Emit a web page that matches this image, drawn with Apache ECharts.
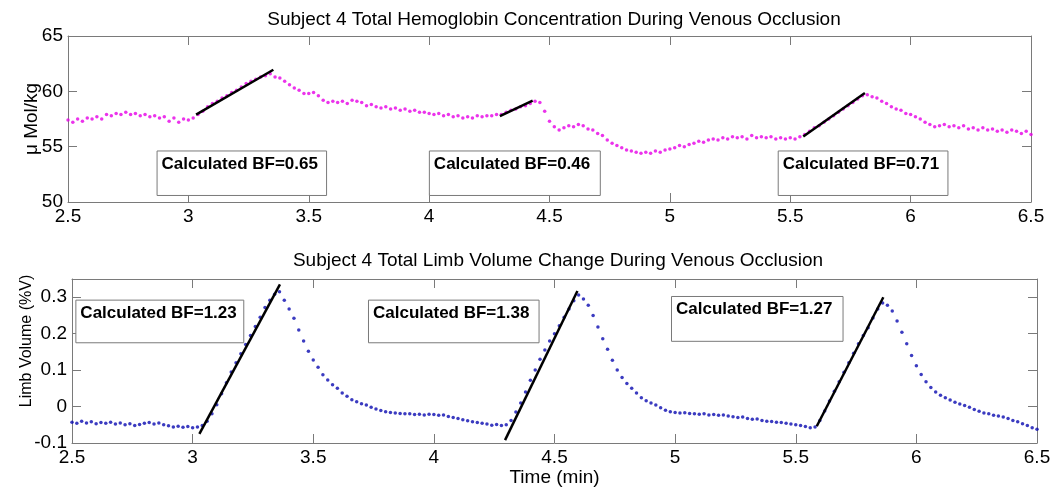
<!DOCTYPE html>
<html>
<head>
<meta charset="utf-8">
<script src="https://cdn.jsdelivr.net/npm/echarts@6/dist/echarts.min.js"></script>
<style>
  html, body { margin: 0; padding: 0; background: #fff; }
  #main { width: 1059px; height: 488px; }
</style>
</head>
<body>
<div id="main"></div>
<script>
// sample times (min), every 0.02 min from 2.5 to 6.5
const tStart = 2.5
const tStep = 0.02
const nSamples = 201

// total hemoglobin (uMol/kg)
const hbValues = [
  57.4, 57.2, 57.5, 57.3, 57.6, 57.5, 57.7, 57.5, 57.9, 57.8,
  58.0, 57.9, 58.1, 57.9, 58.0, 57.8, 57.9, 57.7, 57.8, 57.6,
  57.7, 57.3, 57.6, 57.2, 57.5, 57.4, 57.6, 57.9, 58.2, 58.6,
  58.9, 59.1, 59.4, 59.6, 59.9, 60.1, 60.4, 60.7, 60.9, 61.1,
  61.3, 61.4, 61.6, 61.3, 61.2, 60.9, 60.6, 60.3, 60.1, 59.8,
  59.8, 59.9, 59.6, 59.2, 59.0, 59.1, 59.0, 59.1, 58.9, 59.2,
  59.1, 59.0, 58.7, 58.8, 58.6, 58.5, 58.6, 58.4, 58.5, 58.3,
  58.4, 58.2, 58.3, 58.1, 58.1, 58.0, 57.9, 58.0, 57.8, 57.9,
  57.7, 57.8, 57.6, 57.7, 57.6, 57.8, 57.7, 57.8, 57.8, 57.9,
  57.9, 58.1, 58.3, 58.4, 58.6, 58.7, 58.9, 59.1, 59.0, 58.2,
  57.3, 56.8, 56.5, 56.7, 56.9, 56.8, 57.0, 56.9, 56.6, 56.5,
  56.2, 56.0, 55.6, 55.3, 55.1, 54.9, 54.7, 54.6, 54.5, 54.4,
  54.5, 54.4, 54.6, 54.5, 54.7, 54.8, 54.9, 55.1, 55.0, 55.2,
  55.3, 55.5, 55.4, 55.6, 55.7, 55.6, 55.8, 55.7, 55.9, 55.8,
  55.9, 55.7, 56.0, 55.8, 55.9, 55.8, 55.9, 55.7, 55.8, 55.7,
  55.8, 55.7, 55.9, 56.1, 56.4, 56.7, 56.9, 57.2, 57.5, 57.8,
  58.1, 58.4, 58.7, 59.0, 59.3, 59.6, 59.7, 59.5, 59.4, 59.1,
  58.9, 58.6, 58.4, 58.3, 58.0, 57.9, 57.7, 57.5, 57.2, 57.0,
  56.8, 56.9, 57.0, 56.8, 56.9, 56.7, 56.9, 56.6, 56.7, 56.5,
  56.7, 56.5, 56.6, 56.4, 56.5, 56.3, 56.5, 56.4, 56.2, 56.4,
  56.1
]

// limb volume change (%V)
const volValues = [
  -0.043, -0.046, -0.040, -0.045, -0.042, -0.047, -0.044, -0.046, -0.043, -0.048,
  -0.045, -0.050, -0.047, -0.052, -0.049, -0.046, -0.044, -0.048, -0.045, -0.050,
  -0.053, -0.056, -0.054, -0.057, -0.055, -0.058, -0.056, -0.052, -0.040, -0.020,
  0.005, 0.035, 0.065, 0.095, 0.120, 0.145, 0.170, 0.195, 0.220, 0.245,
  0.272, 0.292, 0.308, 0.315, 0.292, 0.268, 0.242, 0.210, 0.180, 0.152,
  0.128, 0.108, 0.087, 0.073, 0.060, 0.050, 0.037, 0.028, 0.019, 0.013,
  0.008, 0.004, -0.002, -0.007, -0.011, -0.014, -0.016, -0.018, -0.019, -0.020,
  -0.020, -0.022, -0.021, -0.023, -0.021, -0.022, -0.024, -0.023, -0.027, -0.030,
  -0.033, -0.036, -0.039, -0.042, -0.044, -0.046, -0.048, -0.051, -0.049, -0.052,
  -0.050, -0.038, -0.015, 0.010, 0.040, 0.072, 0.100, 0.130, 0.155, 0.180,
  0.200, 0.222, 0.245, 0.268, 0.290, 0.306, 0.295, 0.278, 0.250, 0.218,
  0.186, 0.157, 0.127, 0.100, 0.080, 0.063, 0.050, 0.037, 0.024, 0.016,
  0.010, 0.004, -0.003, -0.010, -0.014, -0.016, -0.018, -0.017, -0.019, -0.020,
  -0.021, -0.020, -0.023, -0.022, -0.024, -0.023, -0.026, -0.028, -0.030, -0.029,
  -0.033, -0.035, -0.034, -0.038, -0.040, -0.041, -0.043, -0.044, -0.046, -0.048,
  -0.050, -0.052, -0.055, -0.058, -0.056, -0.038, -0.012, 0.015, 0.042, 0.068,
  0.094, 0.120, 0.146, 0.172, 0.195, 0.216, 0.243, 0.268, 0.284, 0.278,
  0.262, 0.235, 0.204, 0.172, 0.140, 0.112, 0.088, 0.068, 0.052, 0.040,
  0.031, 0.024, 0.018, 0.012, 0.007, 0.003, -0.002, -0.008, -0.013, -0.018,
  -0.020, -0.024, -0.026, -0.029, -0.033, -0.038, -0.042, -0.047, -0.052, -0.058,
  -0.062
]

// fitted lines [x1, y1, x2, y2]
const hbFits = [
  [3.032, 57.9, 3.353, 61.95],
  [4.294, 57.76, 4.430, 59.17],
  [5.554, 55.92, 5.810, 59.85]
]
const volFits = [
  [3.028, -0.075, 3.362, 0.335],
  [4.295, -0.092, 4.595, 0.317],
  [5.587, -0.054, 5.863, 0.300]
]

// annotation boxes: label, x1, y1, x2, y2 (data units)
const hbNotes = [
  ['Calculated BF=0.65', 2.870, 54.61, 3.574, 50.59],
  ['Calculated BF=0.46', 4.001, 54.61, 4.711, 50.59],
  ['Calculated BF=0.71', 5.450, 54.61, 6.155, 50.59]
]
const volNotes = [
  ['Calculated BF=1.23', 2.516, 0.292, 3.212, 0.175],
  ['Calculated BF=1.38', 3.729, 0.292, 4.436, 0.175],
  ['Calculated BF=1.27', 4.985, 0.302, 5.696, 0.179]
]

const titles = [
  'Subject 4 Total Hemoglobin Concentration During Venous Occlusion',
  'Subject 4 Total Limb Volume Change During Venous Occlusion'
]

const font = 'Liberation Sans, Arial, sans-serif'
const axisGray = '#7a7a7a'

let times = []
for (let i = 0; i < nSamples; i++) times.push(+(tStart + i * tStep).toFixed(2))

function boxArea (notes) {
  return {
    silent: true,
    itemStyle: { color: '#fff', borderColor: axisGray, borderWidth: 1 },
    label: {
      show: true,
      position: 'insideTopLeft',
      distance: 5,
      color: '#000',
      fontSize: 17,
      fontWeight: 'bold',
      fontFamily: font
    },
    data: notes.map(n => [
      { name: n[0], xAxis: n[1], yAxis: n[2] },
      { xAxis: n[3], yAxis: n[4] }
    ])
  }
}

function fitSeries (fits, xi, yi) {
  return fits.map(f => ({
    type: 'line',
    xAxisIndex: xi,
    yAxisIndex: yi,
    data: [[f[0], f[1]], [f[2], f[3]]],
    symbol: 'none',
    lineStyle: { color: '#000', width: 2.5 },
    z: 5,
    silent: true
  }))
}

function xAxes (grid, showName) {
  let base = {
    type: 'value',
    gridIndex: grid,
    min: 2.5,
    max: 6.5,
    interval: 0.5,
    splitLine: { show: false },
    axisLine: { show: true, onZero: false, lineStyle: { color: axisGray } },
    axisTick: { show: true, inside: true, length: 9, lineStyle: { color: axisGray } }
  }
  return [
    Object.assign({}, base, {
      position: 'bottom',
      name: showName ? 'Time (min)' : '',
      nameLocation: 'middle',
      nameGap: 25,
      nameTextStyle: { color: '#000', fontSize: 19, fontFamily: font },
      axisLabel: { color: '#000', fontSize: 19, fontFamily: font, margin: 5 }
    }),
    Object.assign({}, base, { position: 'top', axisLabel: { show: false } })
  ]
}

function yAxes (grid, min, max, interval) {
  let base = {
    type: 'value',
    gridIndex: grid,
    min: min,
    max: max,
    interval: interval,
    splitLine: { show: false },
    axisLine: { show: true, onZero: false, lineStyle: { color: axisGray } },
    axisTick: { show: true, inside: true, length: 9, lineStyle: { color: axisGray } }
  }
  let onTick = Math.abs(Math.round((max - min) / interval) * interval - (max - min)) < 1e-9
  return [
    Object.assign({}, base, {
      position: 'left',
      axisLabel: { color: '#000', fontSize: 19, fontFamily: font, margin: 5, showMaxLabel: onTick }
    }),
    Object.assign({}, base, { position: 'right', axisLabel: { show: false } })
  ]
}

let chart = echarts.init(document.getElementById('main'), null, { renderer: 'canvas' })

let option = {
  animation: false,
  backgroundColor: '#fff',
  title: [
    {
      text: titles[0],
      left: 549,
      top: 5,
      textAlign: 'center',
      textStyle: { color: '#000', fontSize: 19, fontWeight: 'normal', fontFamily: font }
    },
    {
      text: titles[1],
      left: 553,
      top: 246,
      textAlign: 'center',
      textStyle: { color: '#000', fontSize: 19, fontWeight: 'normal', fontFamily: font }
    }
  ],
  grid: [
    { left: 68, top: 36, width: 963, height: 166 },
    { left: 72, top: 279, width: 965, height: 165 }
  ],
  xAxis: xAxes(0, false).concat(xAxes(1, true)),
  yAxis: yAxes(0, 50, 65, 5).concat(yAxes(1, -0.1, 0.35, 0.1)),
  graphic: [
    {
      type: 'text',
      x: 32,
      y: 119,
      rotation: Math.PI / 2,
      style: { text: 'μ Mol/kg', fill: '#000', fontSize: 19, fontFamily: font, textAlign: 'center', textVerticalAlign: 'middle' }
    },
    {
      type: 'text',
      x: 27,
      y: 341,
      rotation: Math.PI / 2,
      style: { text: 'Limb Volume (%V)', fill: '#000', fontSize: 16, fontFamily: font, textAlign: 'center', textVerticalAlign: 'middle' }
    }
  ],
  series: [
    {
      type: 'scatter',
      xAxisIndex: 0,
      yAxisIndex: 0,
      data: times.map((t, i) => [t, hbValues[i]]),
      symbol: 'circle',
      symbolSize: 3.5,
      itemStyle: { color: '#e600e6' },
      markArea: boxArea(hbNotes),
      silent: true
    },
    {
      type: 'scatter',
      xAxisIndex: 2,
      yAxisIndex: 2,
      data: times.map((t, i) => [t, volValues[i]]),
      symbol: 'circle',
      symbolSize: 3.5,
      itemStyle: { color: '#0a0ab0' },
      markArea: boxArea(volNotes),
      silent: true
    }
  ].concat(fitSeries(hbFits, 0, 0)).concat(fitSeries(volFits, 2, 2))
}

chart.setOption(option)
</script>
</body>
</html>
